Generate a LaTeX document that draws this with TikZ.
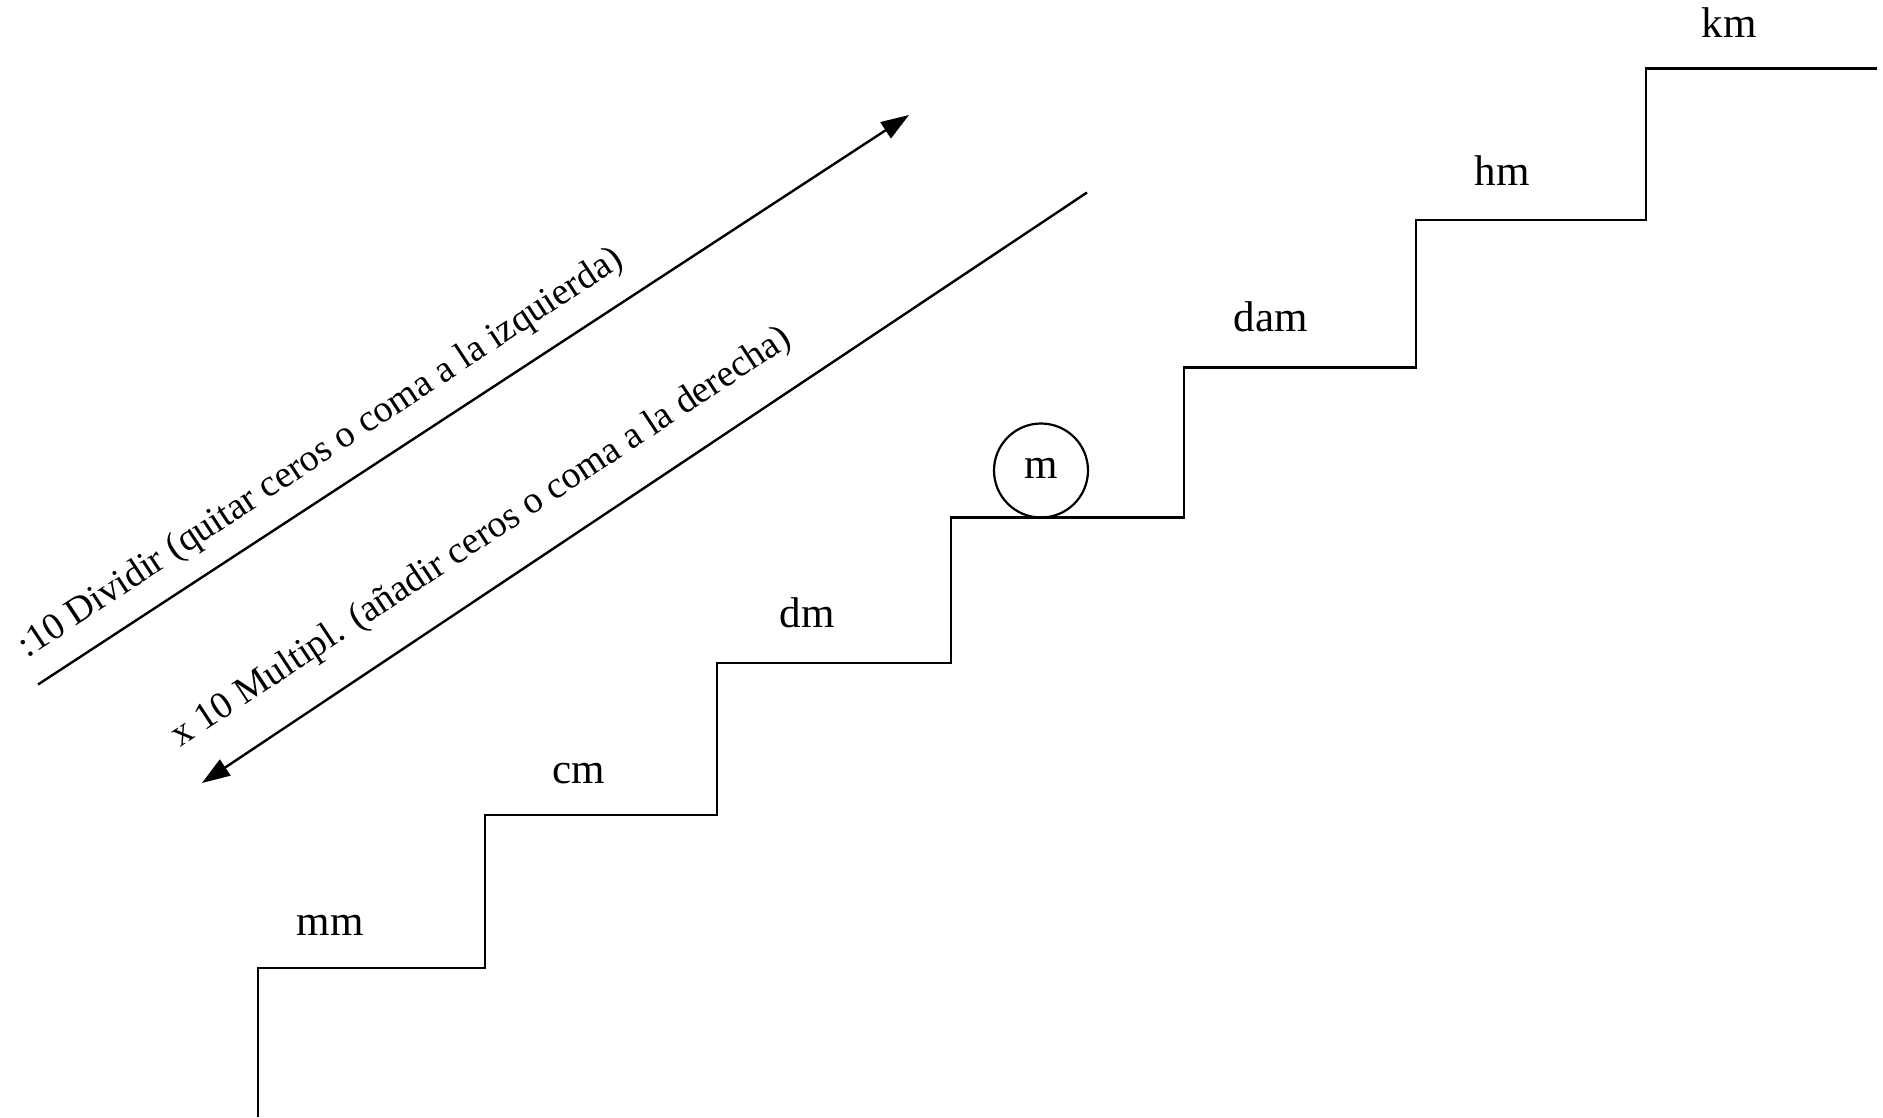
\documentclass[tikz,border=0pt]{standalone}
\usepackage{fontspec}
\setmainfont{Liberation Serif}
\usetikzlibrary{arrows.meta}
\tikzset{
  stair/.style={draw=black, line width=2.6pt, line join=miter},
  arrowline/.style={draw=black, line width=2.4pt, -{Triangle[length=28pt,width=19pt]}},
  unitlabel/.style={font=\fontsize{43}{50}\selectfont, anchor=base, inner sep=0pt},
  ruletext/.style={font=\fontsize{38}{44}\selectfont, rotate=33.4, inner sep=0pt},
  ball/.style={draw=black, line width=2.2pt, circle, minimum size=94pt, inner sep=0pt}
}
\begin{document}
\begin{tikzpicture}[x=1pt,y=-1pt]
\useasboundingbox (0,0) rectangle (1883,1117);
% stair corners
\coordinate (p0) at (258,1117);
\coordinate (p1) at (258,968);
\coordinate (p2) at (485,968);
\coordinate (p3) at (485,815);
\coordinate (p4) at (717,815);
\coordinate (p5) at (717,663);
\coordinate (p6) at (951,663);
\coordinate (p7) at (951,517.5);
\coordinate (p8) at (1184,517.5);
\coordinate (p9) at (1184,367.5);
\coordinate (p10) at (1416,367.5);
\coordinate (p11) at (1416,220);
\coordinate (p12) at (1646,220);
\coordinate (p13) at (1646,68.5);
\coordinate (p14) at (1877,68.5);
\draw[stair] (p0) -- (p1) -- (p2) -- (p3) -- (p4) -- (p5) -- (p6) -- (p7) -- (p8) -- (p9) -- (p10) -- (p11) -- (p12) -- (p13) -- (p14);
% labels
\node[unitlabel] (mm) at (330,935) {mm};
\node[unitlabel] (cm) at (579,783) {cm};
\node[unitlabel] (dm) at (807,627) {dm};
\node[ball] (m) at (1041,470.5) {};
\node[unitlabel] at (1041,478) {m};
\node[unitlabel] (dam) at (1271,331) {dam};
\node[unitlabel] (hm) at (1502,185) {hm};
\node[unitlabel] (km) at (1729,37) {km};
% arrows
\coordinate (a1s) at (38,684.5);
\coordinate (a1e) at (909,115);
\coordinate (a2s) at (1087,192.5);
\coordinate (a2e) at (202,783);
\draw[arrowline] (a1s) -- (a1e);
\draw[arrowline] (a2s) -- (a2e);
\node[ruletext] (t1) at (321,454) {:10 Dividir (quitar ceros o coma a la izquierda)};
\node[ruletext] (t2) at (482,538) {x 10 Multipl. (añadir ceros o coma a la derecha)};
\end{tikzpicture}
\end{document}
